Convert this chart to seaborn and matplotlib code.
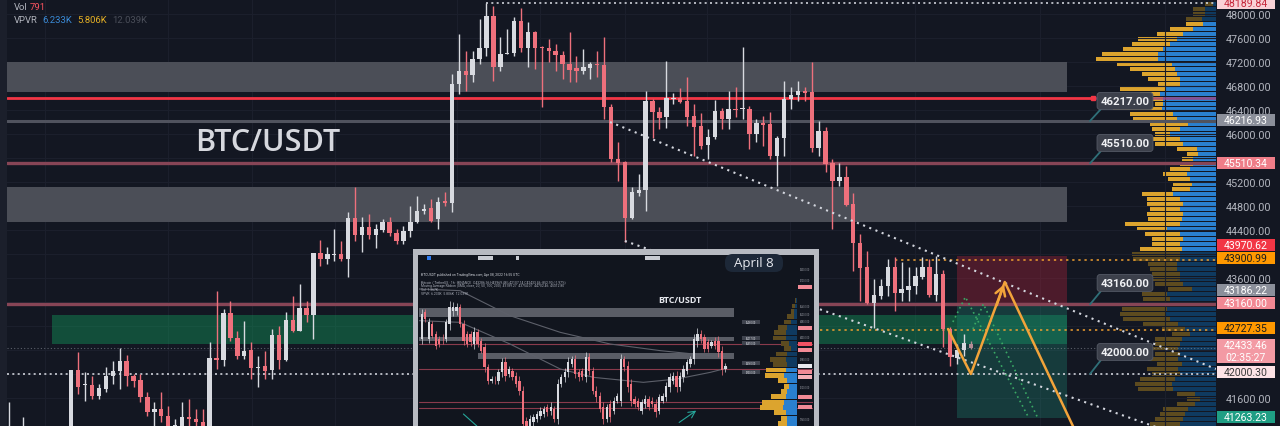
import numpy as np
import matplotlib
matplotlib.use("Agg")
import matplotlib.pyplot as plt
from matplotlib.patches import Rectangle, FancyBboxPatch
from matplotlib.transforms import blended_transform_factory
import seaborn as sns

# ---------------- main chart candles (BTC/USDT) ----------------
opens = [40950,41050,40900,41020,40800,40700,40850,40750,40800,40900,
         42067,41817,41817,41633,41750,41967,42050,42217,41967,41900,
         41617,41367,41417,41300,41050,41100,41283,41250,41200,41080,
         42267,42233,43017,42600,42300,42400,42100,42133,42067,42650,
         42233,42900,42717,43100,42983,44017,43917,43983,44000,43917,
         44600,44317,44450,44317,44400,44533,44350,44217,44383,44533,
         44717,44767,44583,44883,44850,46833,47050,46983,47250,47433,
         47967,47117,47333,47350,47883,47433,47700,47433,47433,47383,
         47317,47167,47100,47050,47100,47167,47150,46450,45583,45533,
         44600,45017,45067,46550,46367,46283,46583,46600,46550,46300,
         46133,45817,45950,46383,46250,46417,46410,46417,46000,46183,
         46167,45633,45933,46583,46650,46717,46700,45767,46050,45517,
         45217,45283,44833,44183,43783,43183,43300,43467,43783,43350,
         43400,43467,43617,43783,43317,43667,42750,42267,42400,42500]
highs = [41530,41100,41280,41100,40950,40900,40950,40900,41000,42067,
         42367,42033,41967,41833,42117,42217,42433,42317,42000,42000,
         41700,41533,41700,41467,41250,41533,41583,41417,41417,42533,
         43383,43083,43217,42717,42883,42533,42300,42383,42750,42800,
         43033,43300,43500,43217,44017,44233,44117,44417,44217,44700,
         45117,44617,44667,44500,44583,44617,44417,44467,44800,44967,
         44833,44917,44950,45033,47000,47667,47383,47383,47917,48190,
         48133,47617,47750,47950,48100,47867,47717,47467,47583,47500,
         47383,47700,47300,47417,47200,47383,47617,46500,45867,45550,
         45117,45333,46717,46583,46450,47217,46683,46767,46950,46500,
         46350,46083,46567,46433,46717,46783,47450,46467,46250,46300,
         46367,45967,46883,46783,46883,46783,47200,46217,46117,45583,
         45517,45467,45017,44333,44050,43583,43583,43917,43950,43867,
         43783,43783,43950,43917,43967,43733,42783,42500,42667,42550]
lows = [40800,40850,40800,40700,40600,40550,40650,40600,40700,40850,
        41667,41550,41583,41583,41700,41833,41750,41800,41783,41533,
        41300,41100,41200,41000,40950,41000,41100,41100,41000,41000,
        42083,42133,42550,42250,42250,41917,41783,41917,41917,42083,
        42217,42700,42717,42867,42583,43800,43833,43883,43883,43617,
        44217,44033,44250,44100,44367,44300,44167,44167,44283,44517,
        44667,44533,44417,44800,44700,46667,46717,46867,47167,47300,
        46883,47050,47333,47300,47367,47117,47083,46450,47200,47050,
        46917,46867,46867,47000,46917,46950,46250,45533,45217,44200,
        44583,44967,44717,45933,46083,46100,46500,46517,46133,45633,
        45750,45583,45917,46083,46083,46283,46250,45750,45867,45800,
        45583,45133,45633,46417,46550,46550,45700,45633,45367,44417,
        45133,44800,43717,43217,43167,42767,43250,43300,43050,43217,
        43217,43333,43583,43283,43217,42450,42133,42167,42300,42417]
closes = [41050,40900,41020,40800,40700,40850,40750,40800,40900,42067,
          41783,41833,41633,41767,41967,42050,42217,41967,41883,41617,
          41367,41417,41300,41080,41150,41283,41250,41200,41080,42267,
          42233,43017,42600,42300,42383,42100,42117,42050,42650,42233,
          42900,42717,43100,42983,44017,43917,44000,44000,43917,44600,
          44317,44450,44317,44417,44533,44350,44217,44383,44533,44717,
          44750,44550,44867,44850,46833,47050,46983,47250,47433,47967,
          47117,47333,47350,47883,47433,47700,47433,47430,47383,47317,
          47167,47067,47050,47117,47167,47150,46450,45583,45517,44600,
          45033,45067,46550,46367,46267,46600,46600,46533,46283,46117,
          45800,45950,46383,46250,46417,46400,46420,46000,46183,46150,
          45633,45933,46583,46650,46717,46683,45767,46050,45500,45217,
          45283,44817,44183,43767,43183,43317,43467,43783,43350,43417,
          43467,43633,43783,43317,43667,42750,42283,42400,42517,42433]

# ---------------- volume profile (visible range) ----------------
vp_up = [3,11,11,14,13,23,33,39,46,53,58,58,44,41,39,36,36,50,56,53,
         53,54,43,39,28,36,46,36,33,19,18,23,23,26,29,26,24,26,43,36,
         33,36,33,34,36,49,36,33,36,34,36,36,39,39,36,36,33,24,49,46,
         49,49,51,46,38,31,26,34,36,38,36,38,34,38,36,41,44,43,21,16,
         21,28,31,33,36]
vp_down = [8,12,12,16,17,23,26,39,38,40,56,62,55,45,35,32,22,46,20,13,
           8,49,43,44,38,28,15,27,28,20,11,11,13,20,24,22,19,18,31,33,
           36,30,36,34,55,30,35,31,28,42,48,47,29,27,28,27,28,24,25,27,
           44,45,45,47,35,23,18,27,25,30,25,30,25,31,28,35,37,35,18,13,
           18,25,25,28,30]
vp_top_row, vp_row = 48166.7, 83.333
va_low, va_high = 44050, 47900

# ---------------- levels / drawings ----------------
price_ticks = list(range(41600, 48001, 400))
hidden_ticks = [45600, 44000, 43200, 42800, 42400, 42000]   # covered by price labels
zone_lo = [46700, 44533]
zone_hi = [47200, 45117]
green_lo, green_hi = 42500, 42983
level_red = 46600
level_gray = 46216.93
levels_pink = [45510.34, 43160.00]
level_last = 42433.46
level_low_dotted = 42000.30
level_high = 48189.84
levels_orange = [43900.99, 42727.35]
pos_x0, pos_x1 = 137.0, 152.9
pos_stop, pos_entry, pos_target = 43970.62, 43160.00, 41263.23
trend1_x, trend1_y = [86.85, 174.4], [46200, 42083]
trend2_x, trend2_y = [89.0, 174.4], [44217, 40767]
zig_x, zig_y = [135.7, 139.0, 143.9, 156.2], [42750, 42000, 43533, 40533]
gA_x, gA_y = [136.4, 138.2, 147.3], [42867, 43283, 41283]
gB_x, gB_y = [139.3, 140.8, 148.6], [42750, 43167, 41283]
grid_x = [5.2, 23.0, 35.1, 47.1, 64.7, 76.7, 89.0, 100.9, 112.9, 130.9, 149.0, 167.0]

axis_label_vals = [48189.84, 46216.93, 45510.34, 43970.62, 43900.99, 43186.22,
                   43160.00, 42727.35, 42000.30, 41263.23]
axis_label_pos = [48183, 46233, 45517, 44155, 43930, 43405, 43180, 42767, 42033, 41283]
axis_label_bg = ['#f9d2d7', '#8b8f9a', '#ef7d88', '#f23645', '#ff9800', '#8b8f9a',
                 '#f28893', '#ff9800', '#fde3e6', '#1f9e84']
axis_label_fg = ['#c6283b', '#ffffff', '#ffffff', '#ffffff', '#1c1c1c', '#ffffff',
                 '#ffffff', '#1c1c1c', '#3a3a3a', '#ffffff']

note_text = ['46217.00', '45510.00', '43160.00', '42000.00']
note_pos = [46550, 45850, 43517, 42367]
note_bottom = [46417, 45717, 43383, 42233]
note_level = [46216.93, 45510.34, 43160.00, 42000.30]

# ---------------- inset (April 8 chart) ----------------
mini_o = [43967,45551,43967,44858,44264,43967,43990,43967,44858,45650,
          45650,45848,44858,44264,44264,43670,44363,43868,43472,42284,
          41492,41550,41492,41987,42581,41888,42086,41789,41492,40898,
          39116,38799,39017,39215,39413,39512,39908,39710,39809,39215,
          41294,41690,41987,42482,42779,41987,42086,41690,42878,42086,
          40898,40601,39908,39215,40106,39710,40304,40304,42779,42383,
          41294,40403,40304,39710,40106,40403,40304,40106,39710,40304,
          40502,41096,41492,41789,41096,41690,42086,42482,42779,43868,
          44264,44066,43769,43571,43868,43868,43274,42185]
mini_c = [45452,45155,44957,44165,43571,43670,43950,44957,45848,45848,
          45848,44858,43868,43670,43769,44363,43670,43274,42284,41492,
          41591,41520,41987,42581,41789,42185,41690,41294,40898,38918,
          38799,39215,39314,39512,39710,39809,39611,39948,39215,41294,
          41690,41987,42581,42779,41888,41690,41690,42878,42086,40898,
          40502,39809,39215,39908,39314,40304,40601,42779,42284,41096,
          40304,40106,39908,40205,40403,39908,40106,39611,40502,40601,
          41195,41690,41789,41096,41789,42185,42581,42779,43967,44264,
          43967,43373,43373,43769,43571,43175,42126,42383]
mini_w = [300,200,250,150,200,150,300,200,350,300,250,200,250,150,200,300,200,150,250,200,
          150,200,200,250,300,200,150,200,250,300,200,250,200,150,200,150,200,250,200,300,
          200,250,300,200,250,200,150,300,250,200,250,200,300,200,250,200,150,300,200,250,
          300,200,150,200,250,150,200,300,200,150,200,250,200,300,200,250,200,150,300,350,
          250,200,200,150,200,250,300,150]
mini_zone_lo = [45273, 43848, 42779]
mini_zone_hi = [45808, 44086, 43135]
mini_zone_x0 = [0.0, 0.0, 0.15]
mini_lines = [43650, 42185, 40225, 39869]
ma1_x = [-0.7, 11.0, 25.3, 39.7, 54.0, 68.4, 82.7, 87.5]
ma1_y = [46937, 46838, 45353, 44363, 43670, 43274, 42977, 42918]
ma2_x = [-0.7, 11.0, 25.3, 39.7, 49.2, 63.5, 73.1, 82.7, 87.5]
ma2_y = [45056, 44957, 43670, 42185, 41690, 41393, 41591, 41987, 42244]
mini_vp_up = [2,5,10,10,20,30,35,35,25,20,30,35,30,35,40,32,25,30,35,40,45,35,30,32]
mini_vp_down = [3,10,10,20,20,30,35,40,25,20,35,50,45,60,60,28,15,20,45,70,70,35,20,28]
mini_label_pos = [44977, 44026, 43729, 42541, 42007]
mini_label_txt = ['46280.00', '45217.00', '45510.00', '43160.00', '42000.00']

# ---------------- styling ----------------
BG = '#131722'
UPC = '#d8dae0'
DNC = '#ee707c'
W, H = 1280, 427
CW = 1216
X0, XSTEP = 9, 6.92
LBL_H = 205

sns.set_theme(style='dark', rc={'axes.facecolor': BG, 'figure.facecolor': BG})
plt.rcParams['font.family'] = ['Roboto', 'DejaVu Sans']

fig = plt.figure(figsize=(W / 100, H / 100), dpi=100)
fig.patch.set_facecolor(BG)


def fx(px):
    return px / W


def fy(py):
    return 1 - py / H


# ---- volume profile axes (behind main axes) ----
axv = fig.add_axes([1080 / W, 0, 136 / W, 1])
axv.set_zorder(1)
axv.patch.set_alpha(0)
axv.axis('off')
axv.set_xlim(136, 0)
axv.set_ylim(41133, 48250)
rows = vp_top_row - vp_row * np.arange(len(vp_up))
bright = (rows >= va_low) & (rows <= va_high)
up_cols = ['#2a80cf' if b else '#0f3a60' for b in bright]
dn_cols = ['#dca42e' if b else '#5d4b1f' for b in bright]
axv.barh(rows, vp_up, height=vp_row * 0.8, left=0, color=up_cols, lw=0)
axv.barh(rows, vp_down, height=vp_row * 0.8, left=vp_up, color=dn_cols, lw=0)

# ---- main axes ----
ax = fig.add_axes([0, 0, CW / W, 1])
ax.set_zorder(2)
ax.patch.set_alpha(0)
ax.set_xlim((0 - X0) / XSTEP, (CW - X0) / XSTEP)
ax.set_ylim(41133, 48250)
ax.set_yticks(price_ticks)
ax.set_yticklabels(['' if v in hidden_ticks else f'{v:.2f}' for v in price_ticks])
ax.yaxis.tick_right()
ax.tick_params(axis='y', length=0, pad=7, labelsize=7.8, labelcolor='#b2b5be')
ax.set_xticks(grid_x)
ax.tick_params(axis='x', length=0, labelbottom=False)
ax.grid(True, color='#1b1f2c', lw=0.8)
for s in ax.spines.values():
    s.set_visible(False)
trans = blended_transform_factory(ax.transAxes, ax.transData)

# zones
for lo, hi in zip(zone_lo, zone_hi):
    ax.axhspan(lo, hi, xmin=7 / CW, xmax=1067 / CW, color='#4b4e57', lw=0, zorder=1)
ax.axhspan(green_lo, green_hi, xmin=52 / CW, xmax=1067 / CW, color='#12a862', alpha=0.38, lw=0, zorder=1)
ax.add_patch(Rectangle((pos_x0, pos_entry), pos_x1 - pos_x0, pos_stop - pos_entry,
                       fc='#b7243c', alpha=0.35, lw=0, zorder=1))
ax.add_patch(Rectangle((pos_x0, pos_target), pos_x1 - pos_x0, pos_entry - pos_target,
                       fc='#1f8f79', alpha=0.3, lw=0, zorder=1))

# horizontal levels
ax.axhline(level_red, xmin=7 / CW, xmax=1093 / CW, color='#f23645', lw=2, zorder=3)
ax.axhline(level_red, xmin=1093 / CW, xmax=1, color='#a8407a', lw=1.8, alpha=0.8, zorder=3)
ax.plot([(1093 - X0) / XSTEP], [level_red], marker='s', ms=3.5, color='#f23645', zorder=4)
ax.axhline(level_gray, xmin=7 / CW, xmax=1, color='#50535e', lw=2.2, zorder=3)
for lv in levels_pink:
    ax.axhline(lv, xmin=7 / CW, xmax=1, color='#874556', lw=2.4, zorder=3)
ax.axhline(level_last, xmin=7 / CW, xmax=1, color='#8b909b', lw=0.8, ls=(0, (1, 2)), alpha=0.6, zorder=3)
ax.axhline(level_low_dotted, xmin=7 / CW, xmax=1, color='#cfd2da', lw=1.2, ls=(0, (1.2, 2)), zorder=3)
ax.hlines(level_high, 69, (CW - X0) / XSTEP, color='#cfd2da', lw=1.2, ls=(0, (1.2, 2)), zorder=3)
ax.axhline(levels_orange[0], xmin=895 / CW, xmax=1, color='#f0a030', lw=1.1, ls=(0, (1.5, 2.5)), zorder=3)
ax.axhline(levels_orange[1], xmin=820 / CW, xmax=1, color='#f0a030', lw=1.1, ls=(0, (1.5, 2.5)), zorder=3)

# candles
o = np.array(opens, float); h = np.array(highs, float)
l = np.array(lows, float); c = np.array(closes, float)
idx = np.arange(len(o))
cols = [UPC if cc >= oo else DNC for oo, cc in zip(o, c)]
cols[-1] = '#b38c95'
ax.vlines(idx, l, h, colors=cols, lw=1.0, zorder=5)
ax.bar(idx, np.maximum(np.abs(c - o), 18), bottom=np.minimum(o, c), width=0.64,
       color=cols, lw=0, zorder=6)

# trend lines and projection
for tx, ty in [(trend1_x, trend1_y), (trend2_x, trend2_y)]:
    sns.lineplot(x=tx, y=ty, ax=ax, color='#d3d6de', lw=1.5, ls=(0, (1, 2.2)),
                 sort=False, estimator=None, zorder=7)
for gx, gy in [(gA_x, gA_y), (gB_x, gB_y)]:
    sns.lineplot(x=gx, y=gy, ax=ax, color='#3aa865', lw=1.2, ls=(0, (1, 2)),
                 sort=False, estimator=None, zorder=7)
sns.lineplot(x=zig_x, y=zig_y, ax=ax, color='#f2a33a', lw=1.8, sort=False, estimator=None, zorder=8)
ax.annotate('', xy=(zig_x[2], zig_y[2]), xytext=(zig_x[2] - 1.3, zig_y[2] - 430),
            arrowprops=dict(arrowstyle='->,head_length=0.5,head_width=0.3', color='#f2a33a', lw=1.8),
            zorder=8)

# in-chart price notes
for txt, yp, yb, lv in zip(note_text, note_pos, note_bottom, note_level):
    ax.plot([1101 / CW, 1090 / CW], [yb, lv], transform=trans, color='#2f6f78', lw=1.3, zorder=9)
    ax.text(1125 / CW, yp, txt, transform=trans, ha='center', va='center', fontsize=8.2,
            fontweight='bold', color='#f0f1f4', zorder=10,
            bbox=dict(boxstyle='round,pad=0.3,rounding_size=0.25', fc='#3c404b', ec='#555a66', lw=0.6))

# price scale labels
for val, pos, bg, fg in zip(axis_label_vals, axis_label_pos, axis_label_bg, axis_label_fg):
    ax.add_patch(Rectangle((1217 / CW, pos - LBL_H / 2), 58 / CW, LBL_H, transform=trans, fc=bg,
                           lw=0, clip_on=False, zorder=20))
    ax.text(1246 / CW, pos, f'{val:.2f}', transform=trans, ha='center', va='center', color=fg,
            fontsize=7.6, zorder=21, clip_on=False)
ax.add_patch(Rectangle((1217 / CW, 42383 - 200), 58 / CW, 400, transform=trans, fc='#f39aa4', lw=0,
                       clip_on=False, zorder=20))
ax.text(1246 / CW, 42480, f'{level_last:.2f}', transform=trans, ha='center', va='center',
        color='#ffffff', fontsize=7.6, zorder=21, clip_on=False)
ax.text(1246 / CW, 42280, '02:35:27', transform=trans, ha='center', va='center',
        color='#ffffff', fontsize=7.6, zorder=21, clip_on=False)

# left strip
fig.add_artist(Rectangle((0, 0), 7 / W, 1, transform=fig.transFigure, fc='#1b1f2b', lw=0, zorder=3))

# legend texts
fig.text(fx(14), fy(7.5), 'Vol', color='#b2b5be', fontsize=6.8, va='center', zorder=4)
fig.text(fx(30), fy(7.5), '791', color='#f7525f', fontsize=6.8, va='center', zorder=4)
fig.text(fx(14), fy(20.5), 'VPVR', color='#b2b5be', fontsize=6.8, va='center', zorder=4)
fig.text(fx(42), fy(20.5), '6.233K', color='#3a8ad6', fontsize=6.8, va='center', zorder=4)
fig.text(fx(77), fy(20.5), '5.806K', color='#e5b025', fontsize=6.8, va='center', zorder=4)
fig.text(fx(112), fy(20.5), '12.039K', color='#4a4e59', fontsize=6.8, va='center', zorder=4)

fig.text(fx(268), fy(143), 'BTC/USDT', family=['Open Sans', 'DejaVu Sans'], fontsize=22,
         fontweight='semibold', color='#d6d8de', ha='center', va='center', zorder=4)

# ---------------- inset ----------------
fig.add_artist(Rectangle((fx(413), 0), fx(406), (427 - 250) / H, transform=fig.transFigure,
                         fc='#b7bac1', lw=0, zorder=10))
fig.add_artist(Rectangle((fx(418), 0), fx(396), (427 - 256) / H, transform=fig.transFigure,
                         fc='#11151e', lw=0, zorder=10.5))
for x0, w0, colr in [(427, 4, '#2f7cf0'), (478, 15, '#c8cbd2'), (516, 3, '#c8cbd2'), (645, 15, '#c8cbd2')]:
    fig.add_artist(Rectangle((fx(x0), fy(261)), fx(w0), 4 / H, transform=fig.transFigure,
                             fc=colr, lw=0, zorder=11))
fig.add_artist(FancyBboxPatch((fx(725), fy(273)), fx(58), 18 / H, transform=fig.transFigure,
                              boxstyle='round,pad=0,rounding_size=0.006', mutation_aspect=3,
                              fc='#1d2838', lw=0, zorder=12))
fig.text(fx(754), fy(264), 'April 8', family=['Open Sans', 'DejaVu Sans'], fontsize=9.5,
         color='#e8eaf0', ha='center', va='center', zorder=13)
header = ['BTCUSDT published on TradingView.com, Apr 08, 2022 16:55 UTC',
          'Bitcoin / TetherUS · 1h · BINANCE  O43286.36 H43969.48 L42107.14 C42433.46 -852.90 (-1.97%)',
          'Moving Average Ribbon (SMA, close, 20, 50, 100, 200)  43189.27  43754.07  44702.46  45312.80',
          'Vol  1.367K',
          'VPVR  6.233K  5.806K  12.039K']
for k, (tx, ty) in enumerate(zip(header, [275, 282, 286, 290, 294])):
    fig.text(fx(421), fy(ty), tx, fontsize=2.4, color='#a9adb8' if k else '#d0d3da',
             va='center', zorder=13)

axi = fig.add_axes([fx(419), 0, fx(394), 165 / H])
axi.set_zorder(11)
axi.patch.set_alpha(0)
axi.axis('off')
axi.set_xlim(-0.77, 112.1)
axi.set_ylim(38800, 48600)
transi = blended_transform_factory(axi.transAxes, axi.transData)
for lo, hi, x0 in zip(mini_zone_lo, mini_zone_hi, mini_zone_x0):
    axi.axhspan(lo, hi, xmin=x0, xmax=0.8, color='#5a5d66', lw=0, zorder=1)
for lv in mini_lines:
    axi.axhline(lv, color='#8a3a4c', lw=0.8, zorder=2)
sns.lineplot(x=ma1_x, y=ma1_y, ax=axi, color='#5d606a', lw=0.8, sort=False, estimator=None, zorder=3)
sns.lineplot(x=ma2_x, y=ma2_y, ax=axi, color='#5d606a', lw=0.8, sort=False, estimator=None, zorder=3)
mo = np.array(mini_o, float); mc = np.array(mini_c, float); mw = np.array(mini_w, float)
mi = np.arange(len(mo))
mcols = [UPC if cc >= oo else DNC for oo, cc in zip(mo, mc)]
axi.vlines(mi, np.minimum(mo, mc) - mw, np.maximum(mo, mc) + mw, colors=mcols, lw=0.5, zorder=4)
axi.bar(mi, np.maximum(np.abs(mc - mo), 40), bottom=np.minimum(mo, mc), width=0.65,
        color=mcols, lw=0, zorder=5)
axi.plot([11.95, 15.8], [39512, 38799], color='#26a69a', lw=0.8, zorder=5)
axi.annotate('', xy=(79.3, 39809), xytext=(73.1, 38918),
             arrowprops=dict(arrowstyle='->', color='#26a69a', lw=0.8), zorder=5)
axi.text(74, 46343, 'BTC/USDT', family=['Open Sans', 'DejaVu Sans'], fontsize=6.5,
         fontweight='bold', color='#e6e8ee', ha='center', va='center', zorder=6)
for lp, lt in zip(mini_label_pos, mini_label_txt):
    axi.add_patch(Rectangle((0.82, lp - 119), 0.046, 238, transform=transi, fc='#3f434e', lw=0, zorder=6))
    axi.text(0.843, lp, lt, transform=transi, fontsize=1.8, color='#e0e2e8', ha='center',
             va='center', zorder=7)

axvi = fig.add_axes([fx(760), 0, fx(37), 165 / H])
axvi.set_zorder(12)
axvi.patch.set_alpha(0)
axvi.axis('off')
axvi.set_xlim(115, 0)
axvi.set_ylim(38800, 48600)
mrows = 46244 - 317 * np.arange(len(mini_vp_up))
mbright = mrows <= 42150
axvi.barh(mrows, mini_vp_up, height=290, color=['#2a80cf' if b else '#0f3a60' for b in mbright], lw=0)
axvi.barh(mrows, mini_vp_down, height=290, left=mini_vp_up,
          color=['#dca42e' if b else '#5d4b1f' for b in mbright], lw=0)

# inset price column
for ty, colr in [(288, '#f28b96'), (329, '#f28b96'), (345, '#f05264'), (351, '#f28b96'),
                 (367, '#e8e9ee'), (373, '#f28b96'), (378, '#f5b0b7'), (398, '#f28b96'),
                 (408, '#f28b96')]:
    fig.add_artist(Rectangle((fx(798), fy(ty + 2)), fx(14), 4 / H, transform=fig.transFigure,
                             fc=colr, lw=0, zorder=13))
for ty, tt in [(270, '48000.00'), (281, '47200.00'), (307, '45600.00'), (315, '45200.00'),
               (322, '44800.00'), (338, '44000.00'), (360, '42800.00'), (388, '41200.00'),
               (420, '39600.00')]:
    fig.text(fx(805), fy(ty), tt, fontsize=1.8, color='#9598a1', ha='center', va='center', zorder=13)

fig.savefig('out.png', dpi=100, facecolor=BG)
